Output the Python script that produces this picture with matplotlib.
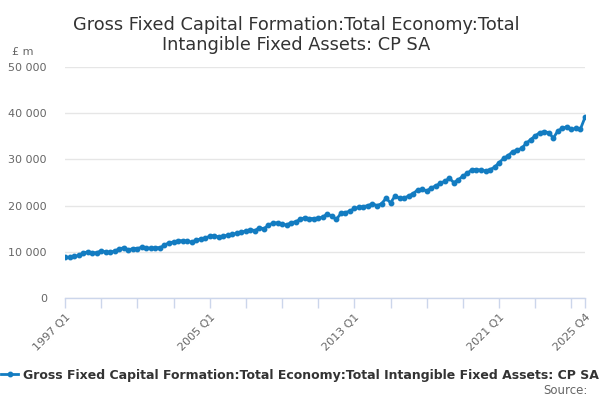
import matplotlib
matplotlib.use('Agg')
import matplotlib.pyplot as plt
from matplotlib.ticker import FuncFormatter

# ── Data (£ m, quarterly, 1997 Q1 - 2025 Q4) ──────────────────────
years = list(range(1997, 2026))
quarters = [f'{y} Q{q}' for y in years for q in range(1, 5)]

values = [
    8800, 8800, 9000, 9200,        # 1997
    9700, 10000, 9800, 9800,       # 1998
    10200, 10000, 9900, 10200,     # 1999
    10600, 10900, 10400, 10700,    # 2000
    10700, 11000, 10800, 10800,    # 2001
    10900, 10900, 11400, 12000,    # 2002
    12100, 12400, 12400, 12300,    # 2003
    12100, 12500, 12800, 12900,    # 2004
    13400, 13500, 13200, 13400,    # 2005
    13600, 13800, 14000, 14300,    # 2006
    14500, 14800, 14600, 15200,    # 2007
    15000, 15800, 16200, 16300,    # 2008
    16000, 15800, 16300, 16500,    # 2009
    17000, 17400, 17200, 17200,    # 2010
    17300, 17500, 18200, 17700,    # 2011
    17000, 18300, 18500, 18800,    # 2012
    19400, 19600, 19800, 20000,    # 2013
    20400, 20000, 20400, 21600,    # 2014
    20600, 22100, 21600, 21600,    # 2015
    22100, 22600, 23400, 23500,    # 2016
    23200, 23800, 24300, 24800,    # 2017
    25300, 25900, 25000, 25600,    # 2018
    26400, 27000, 27800, 27800,    # 2019
    27700, 27500, 27800, 28300,    # 2020
    29300, 30200, 30800, 31700,    # 2021
    32000, 32400, 33500, 34300,    # 2022
    35100, 35800, 36000, 35800,    # 2023
    34600, 36200, 36700, 37100,    # 2024
    36500, 36700, 36600, 39100,    # 2025
]

series_name = 'Gross Fixed Capital Formation:Total Economy:Total Intangible Fixed Assets: CP SA'
title = 'Gross Fixed Capital Formation:Total Economy:Total\nIntangible Fixed Assets: CP SA'
y_ticks = [0, 10000, 20000, 30000, 40000, 50000]
label_quarters = ['1997 Q1', '2005 Q1', '2013 Q1', '2021 Q1', '2025 Q4']

LINE = '#137cc1'
AXIS = '#ccd6eb'
GRID = '#e6e6e6'
TEXT = '#666666'

plt.rcParams['font.family'] = 'DejaVu Sans'

fig = plt.figure(figsize=(6, 4), dpi=100)
ax = fig.add_axes([65 / 600, 1 - 298 / 400, 520 / 600, 231 / 400])

x = list(range(len(quarters)))
ax.plot(x, values, color=LINE, linewidth=2, marker='o', markersize=3.2,
        label=series_name, zorder=3)

ax.set_xlim(0, len(quarters) - 1)
ax.set_ylim(0, 50000)

# y axis
ax.set_yticks(y_ticks)
ax.yaxis.set_major_formatter(FuncFormatter(lambda v, p: f'{int(v):,}'.replace(',', ' ')))
ax.grid(axis='y', color=GRID, linewidth=1, zorder=0)
ax.tick_params(axis='y', length=0, pad=13, labelsize=8, labelcolor=TEXT)

# x axis: ticks every 2 years, labels every 8 years + last
tick_pos = list(range(0, len(quarters), 8)) + [len(quarters) - 1]
ax.set_xticks(tick_pos)
ax.set_xticklabels([quarters[i] if quarters[i] in label_quarters else '' for i in tick_pos])
ax.tick_params(axis='x', length=7, width=1, color=AXIS, labelsize=8,
               labelcolor=TEXT, pad=3)
for lab in ax.get_xticklabels():
    lab.set_rotation(45)
    lab.set_ha('right')
    lab.set_rotation_mode('anchor')

for side in ['top', 'right', 'left']:
    ax.spines[side].set_visible(False)
ax.spines['bottom'].set_color(AXIS)
ax.spines['bottom'].set_linewidth(1)
ax.spines['bottom'].set_zorder(4)

# texts
fig.text(0.493, 1 - 35 / 400, title, ha='center', va='center',
         fontsize=12.8, color='#333333', linespacing=1.2)
fig.text(12 / 600, 1 - 52 / 400, '£ m', ha='left', va='center',
         fontsize=8, color=TEXT)

fig.legend(loc='center', bbox_to_anchor=(0.5, 1 - 375 / 400), frameon=False,
           prop={'size': 9, 'weight': 'bold'}, handlelength=1.4,
           handletextpad=0.4, borderaxespad=0, labelcolor='#333333')
fig.text(588 / 600, 1 - 391 / 400, 'Source:', ha='right', va='center',
         fontsize=8.5, color=TEXT)

fig.savefig('out.png', dpi=100)
